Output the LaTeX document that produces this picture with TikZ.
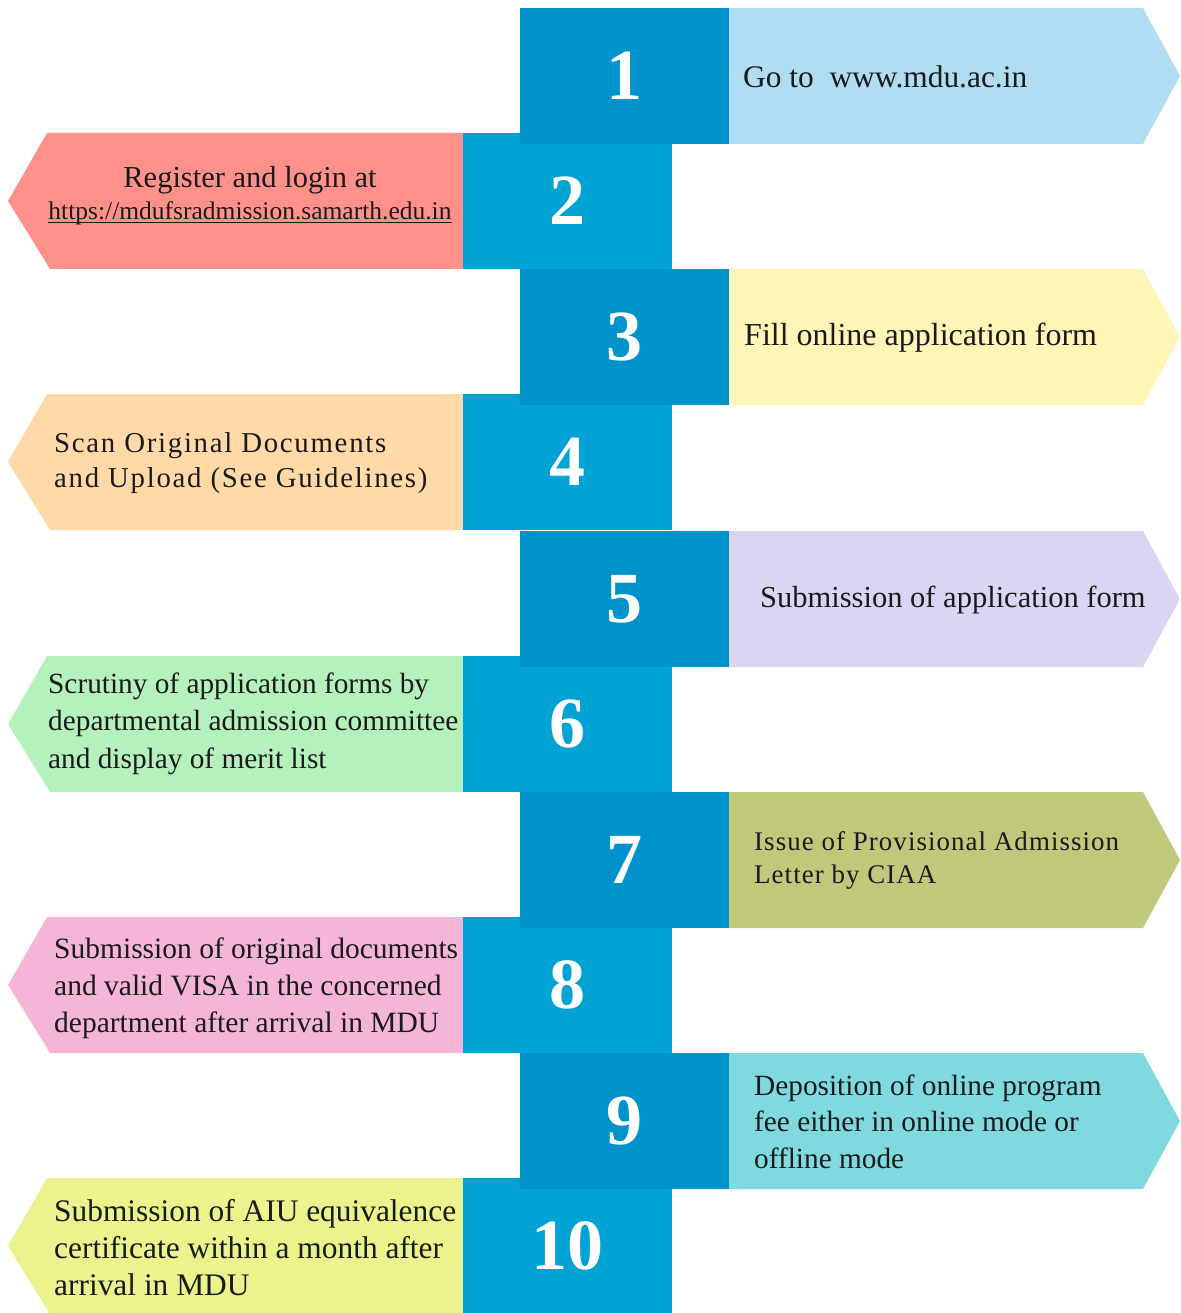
\documentclass[tikz,border=0pt]{standalone}
\usepackage{fontspec}
\setmainfont{Liberation Serif}
\definecolor{oddblue}{HTML}{0093CB}
\definecolor{evenblue}{HTML}{00A3D4}
\definecolor{ca}{HTML}{B0DDF1}
\definecolor{cb}{HTML}{FF918A}
\definecolor{cc}{HTML}{FFF5B7}
\definecolor{cd}{HTML}{FFD9A8}
\definecolor{ce}{HTML}{DBD5F4}
\definecolor{cf}{HTML}{B4F1BC}
\definecolor{cg}{HTML}{C0C87B}
\definecolor{ch}{HTML}{F4B5D8}
\definecolor{ci}{HTML}{81D9E0}
\definecolor{cj}{HTML}{ECF28C}
\definecolor{txt}{HTML}{1A1A1A}
\newcommand\ulink[1]{\setbox0\hbox{#1}\rlap{\raisebox{-3.5pt}{\rule{\wd0}{1.6pt}}}\box0}
\newcommand\rarrow[2]{\fill[#2] (729,#1) -- (1143,#1) -- (1180,{#1+68}) -- (1143,{#1+136}) -- (729,{#1+136}) -- cycle;}
\newcommand\larrow[2]{\fill[#2] (463,#1) -- (47,#1) -- (8,{#1+68}) -- (50,{#1+136}) -- (463,{#1+136}) -- cycle;}
\begin{document}
\begin{tikzpicture}[x=1pt,y=-1pt,
  numbox/.style={draw=none, minimum width=209pt, minimum height=136pt, inner sep=0pt, text=white,
     font=\fontsize{72}{72}\selectfont\bfseries},
  oddbox/.style={numbox, fill=oddblue},
  evenbox/.style={numbox, fill=evenblue},
  steptext/.style={inner sep=0pt, anchor=base west, align=left, text=txt}]
\useasboundingbox (0,0) rectangle (1180,1313);
% arrows
\rarrow{8}{ca}
\larrow{133}{cb}
\rarrow{269}{cc}
\larrow{394}{cd}
\rarrow{531}{ce}
\larrow{656}{cf}
\rarrow{792}{cg}
\larrow{917}{ch}
\rarrow{1053}{ci}
\larrow{1178}{cj}
% even number boxes
\node[evenbox] (n2) at (567.5,201) {2};
\node[evenbox] (n4) at (567.5,462) {4};
\node[evenbox] (n6) at (567.5,724) {6};
\node[evenbox] (n8) at (567.5,985) {8};
\node[evenbox] (n10) at (567.5,1246) {10};
% odd number boxes
\node[oddbox] (n1) at (624.5,76) {1};
\node[oddbox] (n3) at (624.5,337) {3};
\node[oddbox] (n5) at (624.5,599) {5};
\node[oddbox] (n7) at (624.5,860) {7};
\node[oddbox] (n9) at (624.5,1121) {9};
% texts (base anchor = baseline of last line)
\node[steptext, font=\fontsize{31.4}{36}\selectfont] (t1) at (743,88) {Go to\ \ www.mdu.ac.in};
\node[inner sep=0pt, anchor=base, align=center, text=txt, font=\fontsize{30.5}{32}\selectfont] (t2) at (250,220)
  {Register and login at\\{\fontsize{25.5}{32}\selectfont\ulink{https://mdufsradmission.samarth.edu.in}}};
\node[steptext, font=\fontsize{32}{36}\selectfont] (t3) at (744,345) {Fill online application form};
\node[steptext, font=\fontsize{28.8}{35}\selectfont\addfontfeatures{LetterSpace=6}] (t4) at (54,487)
  {Scan Original Documents\\and Upload (See Guidelines)};
\node[steptext, font=\fontsize{30.5}{36}\selectfont] (t5) at (760,607) {Submission of application form};
\node[steptext, font=\fontsize{29.3}{37.5}\selectfont] (t6) at (48,768)
  {Scrutiny of application forms by\\departmental admission committee\\and display of merit list};
\node[steptext, font=\fontsize{26.9}{33}\selectfont\addfontfeatures{LetterSpace=4}] (t7) at (754,883)
  {Issue of Provisional Admission\\Letter by CIAA};
\node[steptext, font=\fontsize{29.5}{37}\selectfont] (t8) at (54,1032)
  {Submission of original documents\\and valid VISA in the concerned\\department after arrival in MDU};
\node[steptext, font=\fontsize{29.3}{36.5}\selectfont] (t9) at (754,1168)
  {Deposition of online program\\fee either in online mode or\\offline mode};
\node[steptext, font=\fontsize{31.4}{37}\selectfont] (t10) at (54,1295)
  {Submission of AIU equivalence\\certificate within a month after\\arrival in MDU};
\end{tikzpicture}
\end{document}
